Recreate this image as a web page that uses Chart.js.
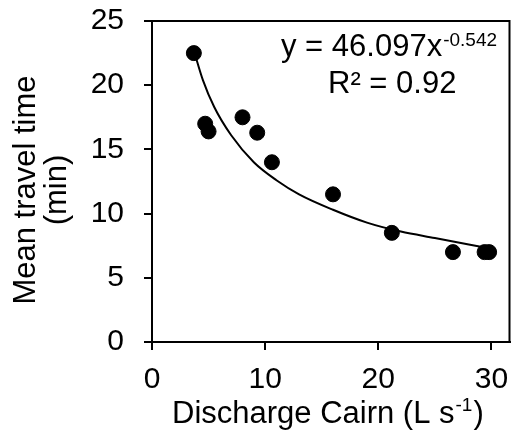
<!DOCTYPE html>
<html>
<head>
<meta charset="utf-8">
<script src="https://cdn.jsdelivr.net/npm/chart.js@4.4.0/dist/chart.umd.min.js"></script>
<style>
  html, body { margin: 0; padding: 0; background: #fff; }
  #wrap { width: 518px; height: 443px; }
</style>
</head>
<body>
<div id="wrap"><canvas id="chart" width="518" height="443"></canvas></div>
<script>
// Measured points: discharge (L s-1) vs mean travel time (min)
const dischargeValues = [3.7, 4.7, 5.0, 8.0, 9.3, 10.6, 16.0, 21.2, 26.6, 29.4, 29.8];
const travelTimes = [22.5, 17.0, 16.4, 17.5, 16.3, 14.0, 11.5, 8.5, 7.0, 7.0, 7.0];

// Power trend line
const trendX = [3.7, 4.5, 5.5, 7, 9, 11, 13, 16, 19, 22, 25, 28, 29.8];
const trendY = [22.7, 20.4, 18.3, 16.1, 14.0, 12.6, 11.5, 10.3, 9.3, 8.6, 8.1, 7.6, 7.3];

const xTicks = [0, 10, 20, 30];
const yTicks = [0, 5, 10, 15, 20, 25];

const xTitle = 'Discharge Cairn (L s';
const xTitleSup = '-1';
const yTitleLines = ['Mean travel time', '(min)'];
const eqMain = 'y = 46.097x';
const eqSup = '-0.542';
const r2Text = 'R\u00B2 = 0.92';

const FONT = "'Liberation Sans', Arial, sans-serif";

function toPoints(xs, ys) {
    return xs.map((x, i) => ({ x: x, y: ys[i] }));
}

const annotations = {
    id: 'annotations',
    afterDraw(chart) {
        const ctx = chart.ctx;
        const area = chart.chartArea;
        ctx.save();

        // box around plot area (top and right edges)
        ctx.strokeStyle = '#000';
        ctx.lineWidth = 2;
        ctx.beginPath();
        ctx.moveTo(area.left, area.top);
        ctx.lineTo(area.right, area.top);
        ctx.lineTo(area.right, area.bottom);
        ctx.stroke();

        ctx.fillStyle = '#000';
        ctx.textBaseline = 'alphabetic';
        ctx.textAlign = 'left';

        // trend equation
        ctx.font = '31px ' + FONT;
        const eqX = 281;
        ctx.fillText(eqMain, eqX, 56);
        const mw = ctx.measureText(eqMain).width;
        ctx.font = '19px ' + FONT;
        ctx.fillText(eqSup, eqX + mw + 1, 46);
        ctx.font = '31px ' + FONT;
        ctx.fillText(r2Text, 328, 93);

        // x axis title with superscript
        ctx.font = '31px ' + FONT;
        const w1 = ctx.measureText(xTitle).width;
        ctx.font = '19px ' + FONT;
        const w2 = ctx.measureText(xTitleSup).width;
        const tx = 172;
        const ty = 423;
        ctx.font = '31px ' + FONT;
        ctx.fillText(xTitle, tx, ty);
        ctx.font = '19px ' + FONT;
        ctx.fillText(xTitleSup, tx + w1 + 1, ty - 12);
        ctx.font = '31px ' + FONT;
        ctx.fillText(')', tx + w1 + w2 + 2, ty);

        // y axis title, two rotated lines
        ctx.translate(0, 190);
        ctx.rotate(-Math.PI / 2);
        ctx.textAlign = 'center';
        ctx.fillText(yTitleLines[0], 0, 35);
        ctx.fillText(yTitleLines[1], 0, 66);

        ctx.restore();
    }
};

const ctx = document.getElementById('chart').getContext('2d');
new Chart(ctx, {
    type: 'scatter',
    data: {
        datasets: [{
            label: 'Observed',
            data: toPoints(dischargeValues, travelTimes),
            backgroundColor: '#000',
            borderColor: '#000',
            pointRadius: 7.5,
            pointHoverRadius: 7.5,
            order: 1
        }, {
            label: 'Power fit',
            type: 'line',
            data: toPoints(trendX, trendY),
            borderColor: '#000',
            borderWidth: 2,
            pointRadius: 0,
            fill: false,
            cubicInterpolationMode: 'monotone',
            order: 2
        }]
    },
    options: {
        responsive: false,
        animation: false,
        events: [],
        layout: { padding: { top: 21, right: 5, left: 0, bottom: 0 } },
        plugins: {
            legend: { display: false },
            tooltip: { enabled: false }
        },
        scales: {
            x: {
                type: 'linear',
                min: 0,
                max: 31.6,
                afterBuildTicks: (scale) => { scale.ticks = xTicks.map(v => ({ value: v })); },
                afterFit: (scale) => {
                    scale.height = 101;
                    scale.paddingLeft = 0;
                    scale.paddingRight = 0;
                },
                ticks: {
                    color: '#000',
                    padding: 12,
                    maxRotation: 0,
                    font: { family: FONT, size: 30 }
                },
                grid: { display: true, drawOnChartArea: false, drawTicks: true, tickLength: 8, color: '#000', lineWidth: 2 },
                border: { display: true, color: '#000', width: 2 }
            },
            y: {
                type: 'linear',
                min: 0,
                max: 25,
                afterBuildTicks: (scale) => { scale.ticks = yTicks.map(v => ({ value: v })); },
                afterFit: (scale) => {
                    scale.width = 152;
                    scale.paddingTop = 0;
                    scale.paddingBottom = 0;
                },
                ticks: {
                    color: '#000',
                    padding: 20,
                    font: { family: FONT, size: 30 }
                },
                grid: { display: true, drawOnChartArea: false, drawTicks: true, tickLength: 8, color: '#000', lineWidth: 2 },
                border: { display: true, color: '#000', width: 2 }
            }
        }
    },
    plugins: [annotations]
});
</script>
</body>
</html>
